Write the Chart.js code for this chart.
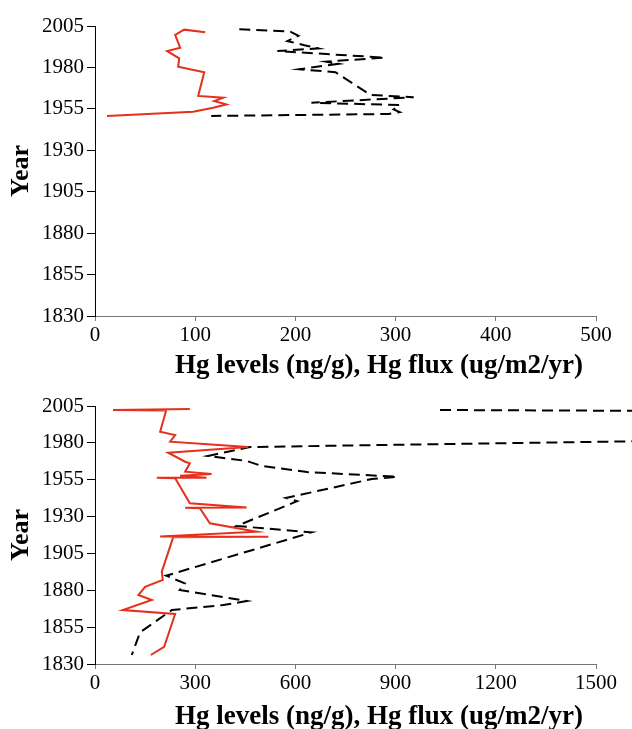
<!DOCTYPE html>
<html>
<head>
<meta charset="utf-8">
<script src="https://cdn.jsdelivr.net/npm/chart.js@4.4.1/dist/chart.umd.min.js"></script>
<style>
  body { margin: 0; background: #fff; }
  .wrap { position: absolute; left: 0; width: 632px; }
  #top-wrap { top: 0; height: 380px; }
  #bottom-wrap { top: 380px; height: 349px; }
</style>
</head>
<body>
<div class="wrap" id="top-wrap"><canvas id="top-chart" width="632" height="380"></canvas></div>
<div class="wrap" id="bottom-wrap"><canvas id="bottom-chart" width="632" height="349"></canvas></div>
<script>
const yearTicks = [1830, 1855, 1880, 1905, 1930, 1955, 1980, 2005];
const xTicksTop = [0, 100, 200, 300, 400, 500];
const xTicksBottom = [0, 300, 600, 900, 1200, 1500];
const xTitle = 'Hg levels (ng/g), Hg flux (ug/m2/yr)';

// top core
const topRedYear = [2001.2, 2002.8, 1999.6, 1991.9, 1989.9, 1985.5, 1980.4, 1977.1, 1962.8, 1961.7, 1959.7, 1957.7, 1955.7, 1953.3, 1950.7];
const topRedHg = [110, 89, 80, 85, 72, 84, 83, 109, 103, 128, 119, 131, 118, 98, 12];
const topBlackYear = [2003.0, 2001.6, 1999.1, 1995.9, 1993.1, 1991.5, 1989.9, 1985.9, 1983.5, 1982.2, 1978.9, 1977.1, 1963.4, 1962.0, 1958.7, 1957.3, 1954.7, 1953.1, 1951.9, 1950.7];
const topBlackHg = [144, 195, 203, 192, 211, 223, 182, 289, 231, 243, 204, 240, 275, 318, 216, 304, 298, 304, 293, 116];

// bottom core
const botRedYear = [2003.0, 2002.3, 2001.9, 1987.6, 1985.3, 1980.8, 1977.2, 1973.3, 1967.2, 1966.1, 1960.4, 1958.9, 1957.7, 1956.4, 1956.3, 1956.0, 1939.0, 1936.1, 1936.0, 1935.6, 1925.4, 1919.7, 1916.4, 1916.3, 1915.9, 1892.6, 1887.0, 1882.4, 1876.8, 1873.4, 1866.6, 1863.9, 1841.7, 1836.1];
const botRedHg = [284, 54, 213, 195, 240, 225, 458, 219, 270, 284, 270, 349, 255, 334, 185, 240, 284, 454, 270, 314, 344, 484, 195, 519, 234, 200, 203, 150, 130, 170, 83, 240, 207, 167];
const botBlackYear = [2002.3, 1997.0, 1977.2, 1971.1, 1967.7, 1964.3, 1960.2, 1957.0, 1955.5, 1942.6, 1940.4, 1923.6, 1919.3, 1889.9, 1884.7, 1880.2, 1872.7, 1870.0, 1866.6, 1851.5, 1836.1];
const botBlackHg = [1033, 6400, 464, 338, 455, 500, 635, 905, 829, 572, 605, 424, 649, 213, 269, 254, 454, 384, 230, 135, 110];

const serif = '"Liberation Serif", "Times New Roman", serif';

function toPoints(xs, ys) {
  return xs.map((v, i) => ({ x: v, y: ys[i] }));
}

const xTitlePlugin = {
  id: 'xTitle',
  afterDraw(chart, args, opts) {
    const { ctx, chartArea } = chart;
    ctx.save();
    ctx.font = 'bold 27px ' + serif;
    ctx.fillStyle = '#000';
    ctx.textAlign = 'center';
    ctx.textBaseline = 'middle';
    const x = chartArea.left + (chartArea.right - chartArea.left) * opts.frac;
    ctx.fillText(opts.text, x, chartArea.bottom + opts.offset);
    ctx.restore();
  }
};

function makeChart(id, red, black, xTicks, xMax, axisHeight, titleOffset) {
  const ctx = document.getElementById(id).getContext('2d');
  return new Chart(ctx, {
    type: 'scatter',
    data: {
      datasets: [
        {
          label: 'Hg levels',
          data: red,
          showLine: true,
          borderColor: '#e4301c',
          borderWidth: 2,
          pointRadius: 0,
          clip: false
        },
        {
          label: 'Hg flux',
          data: black,
          showLine: true,
          borderColor: '#000',
          borderWidth: 2,
          borderDash: [11, 6],
          pointRadius: 0,
          clip: false
        }
      ]
    },
    options: {
      responsive: false,
      animation: false,
      layout: { padding: { top: 26, right: 36, left: 0, bottom: 0 } },
      plugins: {
        legend: { display: false },
        tooltip: { enabled: false },
        xTitle: { text: xTitle, frac: 0.567, offset: titleOffset }
      },
      scales: {
        x: {
          type: 'linear',
          min: 0,
          max: xMax,
          afterBuildTicks: s => { s.ticks = xTicks.map(v => ({ value: v })); },
          afterFit: s => { s.height = axisHeight; },
          grid: { drawOnChartArea: false, tickLength: 5, color: '#777' },
          border: { color: '#777', width: 1 },
          ticks: {
            color: '#000',
            font: { family: serif, size: 21 },
            padding: 2,
            maxRotation: 0,
            callback: v => String(v)
          }
        },
        y: {
          type: 'linear',
          min: 1830,
          max: 2005,
          afterBuildTicks: s => { s.ticks = yearTicks.map(v => ({ value: v })); },
          afterFit: s => { s.width = 95; },
          grid: { drawOnChartArea: false, tickLength: 8, color: '#000' },
          border: { color: '#000', width: 1 },
          ticks: {
            color: '#000',
            font: { family: serif, size: 21 },
            padding: 3,
            callback: v => String(v)
          },
          title: {
            display: true,
            text: 'Year',
            color: '#000',
            font: { family: serif, size: 26, weight: 'bold' },
            padding: { top: 6, bottom: 0 }
          }
        }
      }
    },
    plugins: [xTitlePlugin]
  });
}

makeChart('top-chart', toPoints(topRedHg, topRedYear), toPoints(topBlackHg, topBlackYear), xTicksTop, 500, 64, 50);
makeChart('bottom-chart', toPoints(botRedHg, botRedYear), toPoints(botBlackHg, botBlackYear), xTicksBottom, 1500, 65, 53);
</script>
</body>
</html>
